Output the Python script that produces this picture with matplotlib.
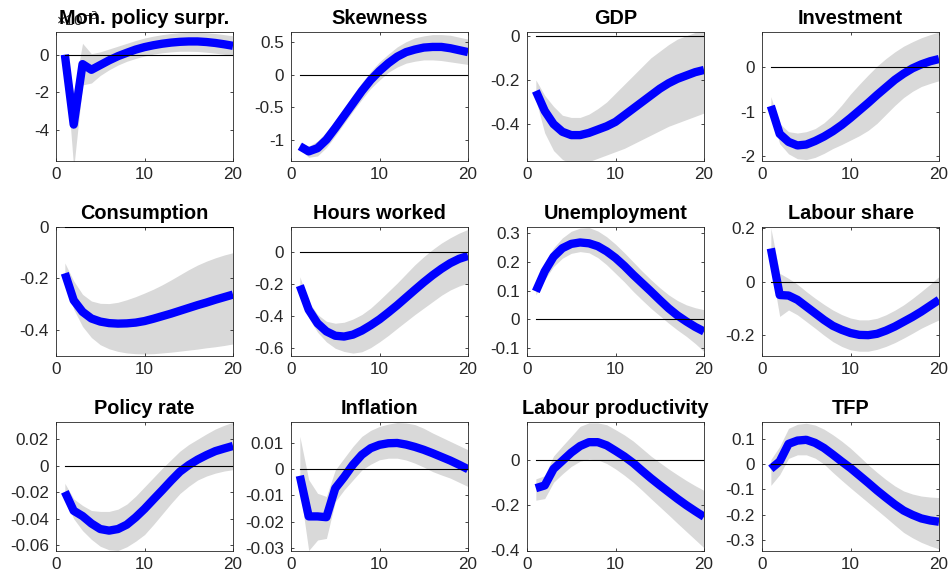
import matplotlib
matplotlib.use("Agg")
import matplotlib.pyplot as plt
from matplotlib.ticker import FuncFormatter

plt.rcParams["font.family"] = ["Liberation Sans", "DejaVu Sans"]
plt.rcParams["axes.unicode_minus"] = False

horizon = list(range(1, 21))

titles = ["Mon. policy surpr.", "Skewness", "GDP", "Investment",
          "Consumption", "Hours worked", "Unemployment", "Labour share",
          "Policy rate", "Inflation", "Labour productivity", "TFP"]

# Mon. policy surprise, in units of 1e-3
mps_mid = [0, -3.7, -0.5, -0.8, -0.55, -0.3, -0.08, 0.1, 0.27, 0.4, 0.5, 0.58, 0.64, 0.68, 0.7, 0.7, 0.67, 0.62, 0.55, 0.47]
mps_lo = [0, -6.0, -1.6, -1.5, -1.1, -0.8, -0.55, -0.35, -0.2, -0.07, 0.03, 0.1, 0.15, 0.18, 0.18, 0.17, 0.13, 0.08, 0.02, -0.05]
mps_hi = [0, -2.0, 0.6, 0.05, 0.15, 0.3, 0.45, 0.6, 0.75, 0.88, 0.98, 1.06, 1.12, 1.16, 1.18, 1.18, 1.16, 1.12, 1.06, 1.0]

skew_mid = [-1.1, -1.18, -1.13, -1.0, -0.82, -0.63, -0.44, -0.25, -0.08, 0.06, 0.18, 0.28, 0.35, 0.39, 0.42, 0.43, 0.43, 0.41, 0.38, 0.35]
skew_lo = [-1.15, -1.27, -1.25, -1.12, -0.94, -0.75, -0.56, -0.38, -0.21, -0.08, 0.04, 0.12, 0.18, 0.21, 0.23, 0.23, 0.22, 0.2, 0.18, 0.16]
skew_hi = [-1.05, -1.1, -1.02, -0.88, -0.7, -0.51, -0.31, -0.12, 0.05, 0.2, 0.32, 0.43, 0.51, 0.57, 0.6, 0.62, 0.62, 0.61, 0.58, 0.55]

gdp_mid = [-0.25, -0.34, -0.4, -0.435, -0.45, -0.45, -0.44, -0.425, -0.41, -0.39, -0.36, -0.33, -0.3, -0.27, -0.24, -0.215, -0.195, -0.18, -0.165, -0.155]
gdp_lo = [-0.29, -0.44, -0.52, -0.56, -0.58, -0.58, -0.57, -0.555, -0.54, -0.525, -0.51, -0.49, -0.47, -0.45, -0.43, -0.41, -0.395, -0.38, -0.365, -0.35]
gdp_hi = [-0.2, -0.27, -0.32, -0.36, -0.37, -0.37, -0.355, -0.33, -0.3, -0.26, -0.22, -0.18, -0.14, -0.1, -0.07, -0.04, -0.015, 0.0, 0.015, 0.025]

inv_mid = [-0.87, -1.5, -1.68, -1.76, -1.74, -1.66, -1.56, -1.44, -1.3, -1.14, -0.97, -0.8, -0.62, -0.45, -0.28, -0.14, -0.02, 0.07, 0.14, 0.19]
inv_lo = [-1.04, -1.72, -1.95, -2.06, -2.08, -2.03, -1.94, -1.83, -1.74, -1.64, -1.54, -1.42, -1.26, -1.06, -0.86, -0.68, -0.54, -0.43, -0.36, -0.3]
inv_hi = [-0.66, -1.27, -1.45, -1.48, -1.45, -1.38, -1.25, -1.07, -0.85, -0.6, -0.38, -0.17, 0.03, 0.2, 0.35, 0.48, 0.58, 0.67, 0.74, 0.8]

cons_mid = [-0.18, -0.285, -0.33, -0.356, -0.368, -0.374, -0.376, -0.375, -0.372, -0.366, -0.357, -0.347, -0.337, -0.326, -0.315, -0.304, -0.294, -0.283, -0.273, -0.263]
cons_lo = [-0.19, -0.32, -0.387, -0.43, -0.458, -0.474, -0.484, -0.49, -0.493, -0.494, -0.493, -0.49, -0.487, -0.483, -0.479, -0.475, -0.47, -0.466, -0.461, -0.455]
cons_hi = [-0.14, -0.21, -0.262, -0.288, -0.297, -0.298, -0.293, -0.283, -0.271, -0.257, -0.242, -0.225, -0.206, -0.186, -0.166, -0.148, -0.133, -0.12, -0.109, -0.1]

hours_mid = [-0.21, -0.36, -0.445, -0.495, -0.522, -0.527, -0.515, -0.49, -0.457, -0.42, -0.377, -0.332, -0.284, -0.236, -0.189, -0.145, -0.105, -0.07, -0.043, -0.025]
hours_lo = [-0.25, -0.41, -0.5, -0.56, -0.6, -0.62, -0.63, -0.622, -0.596, -0.56, -0.52, -0.476, -0.433, -0.39, -0.35, -0.31, -0.27, -0.237, -0.212, -0.194]
hours_hi = [-0.155, -0.31, -0.39, -0.432, -0.444, -0.438, -0.418, -0.39, -0.35, -0.3, -0.247, -0.194, -0.137, -0.08, -0.03, 0.015, 0.055, 0.088, 0.117, 0.14]

unemp_mid = [0.097, 0.167, 0.218, 0.248, 0.263, 0.268, 0.265, 0.255, 0.237, 0.214, 0.186, 0.155, 0.126, 0.097, 0.067, 0.038, 0.013, -0.008, -0.027, -0.043]
unemp_lo = [0.085, 0.138, 0.184, 0.213, 0.23, 0.236, 0.232, 0.215, 0.19, 0.16, 0.13, 0.097, 0.067, 0.038, 0.012, -0.014, -0.038, -0.06, -0.085, -0.113]
unemp_hi = [0.108, 0.196, 0.249, 0.284, 0.307, 0.318, 0.32, 0.308, 0.288, 0.262, 0.232, 0.2, 0.168, 0.138, 0.11, 0.085, 0.065, 0.05, 0.04, 0.033]

lshare_mid = [0.124, -0.05, -0.052, -0.068, -0.093, -0.118, -0.143, -0.165, -0.18, -0.192, -0.199, -0.2, -0.195, -0.183, -0.168, -0.15, -0.132, -0.112, -0.09, -0.068]
lshare_lo = [0.062, -0.13, -0.106, -0.124, -0.149, -0.174, -0.2, -0.224, -0.242, -0.255, -0.26, -0.26, -0.253, -0.242, -0.228, -0.211, -0.193, -0.174, -0.158, -0.143]
lshare_hi = [0.2, 0.031, 0.012, -0.01, -0.037, -0.062, -0.085, -0.106, -0.123, -0.136, -0.143, -0.143, -0.137, -0.124, -0.107, -0.087, -0.063, -0.037, -0.01, 0.019]

rate_mid = [-0.0197, -0.034, -0.038, -0.0436, -0.0478, -0.049, -0.0478, -0.0445, -0.039, -0.0326, -0.0255, -0.0185, -0.0113, -0.0045, 0.0005, 0.0046, 0.008, 0.011, 0.013, 0.0149]
rate_lo = [-0.025, -0.04, -0.049, -0.0556, -0.0608, -0.0635, -0.064, -0.0612, -0.057, -0.052, -0.0445, -0.0365, -0.0285, -0.021, -0.0155, -0.0108, -0.0078, -0.0056, -0.004, -0.003]
rate_hi = [-0.0133, -0.025, -0.03, -0.0338, -0.0345, -0.0345, -0.0328, -0.029, -0.023, -0.016, -0.009, -0.002, 0.0045, 0.011, 0.016, 0.02, 0.024, 0.0277, 0.0305, 0.0328]

infl_mid = [-0.0025, -0.018, -0.018, -0.0183, -0.0073, -0.003, 0.0017, 0.0055, 0.008, 0.0093, 0.0099, 0.01, 0.0094, 0.0085, 0.0074, 0.0061, 0.0047, 0.0033, 0.0017, 0.0]
infl_lo = [-0.0073, -0.031, -0.027, -0.0264, -0.0124, -0.0079, -0.0041, -0.0003, 0.0019, 0.0036, 0.0042, 0.0042, 0.0035, 0.0023, 0.0008, -0.0009, -0.0022, -0.0034, -0.005, -0.0066]
infl_hi = [0.0125, -0.004, -0.0092, -0.0104, -0.0003, 0.0042, 0.0087, 0.0125, 0.0148, 0.0163, 0.0172, 0.0178, 0.0176, 0.017, 0.0156, 0.0138, 0.0122, 0.0106, 0.009, 0.0074]

lprod_mid = [-0.125, -0.113, -0.04, -0.004, 0.032, 0.061, 0.078, 0.078, 0.064, 0.04, 0.015, -0.014, -0.048, -0.081, -0.112, -0.142, -0.172, -0.2, -0.226, -0.251]
lprod_lo = [-0.178, -0.171, -0.099, -0.062, -0.029, -0.006, 0.003, 0.0, -0.016, -0.04, -0.068, -0.099, -0.134, -0.171, -0.207, -0.243, -0.28, -0.316, -0.352, -0.388]
lprod_hi = [-0.084, -0.07, 0.017, 0.061, 0.104, 0.148, 0.163, 0.163, 0.155, 0.133, 0.11, 0.083, 0.05, 0.017, -0.012, -0.04, -0.066, -0.091, -0.114, -0.135]

tfp_mid = [-0.019, 0.01, 0.079, 0.092, 0.095, 0.083, 0.063, 0.037, 0.01, -0.016, -0.045, -0.074, -0.104, -0.132, -0.159, -0.183, -0.2, -0.214, -0.222, -0.227]
tfp_lo = [-0.084, -0.042, 0.022, 0.036, 0.036, 0.023, 0.0, -0.033, -0.064, -0.094, -0.123, -0.152, -0.181, -0.21, -0.24, -0.269, -0.29, -0.308, -0.322, -0.334]
tfp_hi = [0.017, 0.069, 0.14, 0.156, 0.16, 0.153, 0.137, 0.115, 0.09, 0.062, 0.03, -0.003, -0.033, -0.061, -0.086, -0.106, -0.118, -0.126, -0.13, -0.132]

mids = [mps_mid, skew_mid, gdp_mid, inv_mid, cons_mid, hours_mid,
        unemp_mid, lshare_mid, rate_mid, infl_mid, lprod_mid, tfp_mid]
lows = [mps_lo, skew_lo, gdp_lo, inv_lo, cons_lo, hours_lo,
        unemp_lo, lshare_lo, rate_lo, infl_lo, lprod_lo, tfp_lo]
highs = [mps_hi, skew_hi, gdp_hi, inv_hi, cons_hi, hours_hi,
         unemp_hi, lshare_hi, rate_hi, infl_hi, lprod_hi, tfp_hi]

ylims = [(-5.6, 1.2), (-1.32, 0.66), (-0.565, 0.017), (-2.1, 0.8),
         (-0.5, 0.0), (-0.645, 0.155), (-0.127, 0.322), (-0.276, 0.204),
         (-0.064, 0.033), (-0.031, 0.018), (-0.4, 0.167), (-0.34, 0.165)]
yticks = [[-4, -2, 0], [-1, -0.5, 0, 0.5], [-0.4, -0.2, 0], [-2, -1, 0],
          [-0.4, -0.2, 0], [-0.6, -0.4, -0.2, 0], [-0.1, 0, 0.1, 0.2, 0.3],
          [-0.2, 0, 0.2], [-0.06, -0.04, -0.02, 0, 0.02],
          [-0.03, -0.02, -0.01, 0, 0.01], [-0.4, -0.2, 0],
          [-0.3, -0.2, -0.1, 0, 0.1]]

W, H = 952, 582
lefts = [56, 291, 527, 762]
tops = [32, 227, 422]
aw, ah = 177, 128.5
axcol = "#262626"

fig = plt.figure(figsize=(W / 100, H / 100), dpi=100)

for i in range(12):
    r, c = divmod(i, 4)
    ax = fig.add_axes([lefts[c] / W, 1 - (tops[r] + ah) / H, aw / W, ah / H])
    ax.fill_between(horizon, lows[i], highs[i], color="#d9d9d9", lw=0, zorder=1)
    ax.plot(horizon, mids[i], color="#0000ff", lw=6.0, zorder=2,
            solid_joinstyle="round", solid_capstyle="butt")
    ax.plot([1, 20], [0, 0], color="k", lw=0.8, zorder=3)
    ax.set_xlim(0, 20)
    ax.set_ylim(*ylims[i])
    ax.set_xticks([0, 10, 20])
    ax.set_yticks(yticks[i])
    ax.yaxis.set_major_formatter(FuncFormatter(lambda v, p: "%g" % v))
    ax.tick_params(direction="in", top=True, right=True, length=2.5,
                   width=0.6, labelsize=12.3, colors=axcol, pad=5)
    for s in ax.spines.values():
        s.set_color(axcol)
        s.set_linewidth(0.6)
    ax.set_title(titles[i], fontsize=14.3, fontweight="bold", pad=6)
    if i == 0:
        ax.text(0.0, 1.02, "×10$^{-3}$", transform=ax.transAxes,
                fontsize=11, color=axcol, ha="left", va="bottom")

fig.savefig("out.png", dpi=100)
